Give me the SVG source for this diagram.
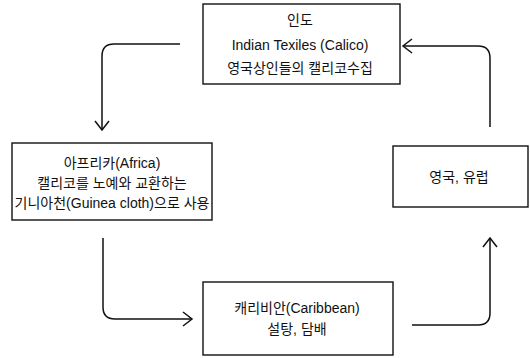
<svg xmlns="http://www.w3.org/2000/svg" width="530" height="358" viewBox="0 0 530 358">
  <style>
    .box { fill: #ffffff; stroke: #111111; stroke-width: 1.4; }
    .t { font-family: "Liberation Sans", "Noto Sans CJK KR", sans-serif; font-size: 14px; fill: #111111; text-anchor: middle; }
    .c { fill: none; stroke: #111111; stroke-width: 1.5; marker-end: url(#ah); }
  </style>
  <defs>
    <marker id="ah" markerUnits="userSpaceOnUse" markerWidth="12" markerHeight="16" refX="10" refY="8" orient="auto">
      <path d="M1,1 L10,8 L1,15" fill="none" stroke="#111111" stroke-width="1.5"/>
    </marker>
  </defs>
  <rect width="530" height="358" fill="#ffffff"/>
  <g id="connectors">
    <path class="c" d="M180,44 L114,44 Q102,44 102,56 L102,130"/>
    <path class="c" d="M103,238 L103,307 Q103,319 115,319 L192,319"/>
    <path class="c" d="M412,325 L478,325 Q490,325 490,313 L490,238"/>
    <path class="c" d="M490,127 L490,58 Q490,46 478,46 L403,46"/>
  </g>
  <g id="india">
    <rect class="box" x="203" y="4" width="197" height="80"/>
    <text class="t" x="300" y="25">인도</text>
    <text class="t" x="300" y="50">Indian Texiles (Calico)</text>
    <text class="t" x="300" y="73">영국상인들의 캘리코수집</text>
  </g>
  <g id="africa">
    <rect class="box" x="12" y="143" width="200" height="77"/>
    <text class="t" x="112" y="168">아프리카(Africa)</text>
    <text class="t" x="112" y="188">캘리코를 노예와 교환하는</text>
    <text class="t" x="112" y="208">기니아천(Guinea cloth)으로 사용</text>
  </g>
  <g id="caribbean">
    <rect class="box" x="203" y="282" width="190" height="73"/>
    <text class="t" x="297" y="313">캐리비안(Caribbean)</text>
    <text class="t" x="297" y="334">설탕, 담배</text>
  </g>
  <g id="england">
    <rect class="box" x="393" y="146" width="135" height="61"/>
    <text class="t" x="459" y="182">영국, 유럽</text>
  </g>
</svg>
